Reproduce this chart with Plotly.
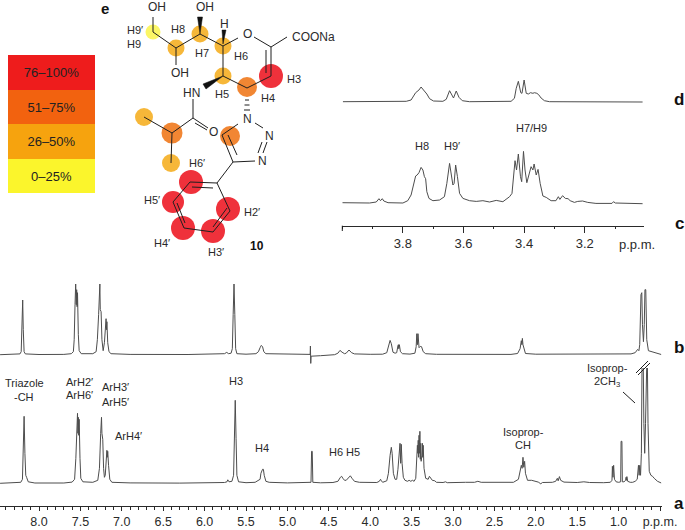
import plotly.graph_objects as go

W, H = 685, 530
FONT = "Liberation Sans"
INK = "#2a2a2a"
TRACE = "#4d4d4d"

# ---- full spectrum a: ppm / height ----
a_ppm = [8.47,8.30,8.22,8.20,8.19,8.18,8.17,8.16,8.15,8.13,8.05,7.70,7.60,7.57,7.555,7.545,7.535,7.53,7.525,7.52,7.515,7.505,7.495,7.47,7.35,7.29,7.27,7.255,7.245,7.24,7.235,7.23,7.22,7.21,7.20,7.19,7.18,7.175,7.17,7.16,7.145,7.12,6.9,6.3,5.9,5.76,5.73,5.72,5.705,5.67,5.65,5.64,5.63,5.62,5.61,5.59,5.5,5.39,5.36,5.33,5.32,5.30,5.29,5.28,5.26,5.22,5.0,4.75,4.715,4.708,4.70,4.693,4.6,4.45,4.39,4.36,4.345,4.33,4.31,4.29,4.26,4.24,4.22,4.19,4.13,4.0,3.92,3.89,3.875,3.865,3.85,3.80,3.78,3.76,3.745,3.735,3.72,3.70,3.68,3.665,3.65,3.64,3.632,3.625,3.615,3.60,3.58,3.55,3.53,3.51,3.49,3.47,3.45,3.44,3.43,3.425,3.42,3.415,3.41,3.405,3.40,3.395,3.39,3.385,3.375,3.37,3.365,3.36,3.35,3.33,3.30,3.285,3.27,3.25,3.22,3.20,3.12,3.09,3.07,2.95,2.90,2.85,2.74,2.70,2.66,2.4,2.27,2.21,2.19,2.175,2.165,2.155,2.145,2.135,2.125,2.10,2.05,2.02,1.97,1.94,1.92,1.8,1.76,1.74,1.73,1.715,1.70,1.66,1.5,1.42,1.35,1.18,1.10,1.08,1.075,1.068,1.06,1.05,1.03,1.0,0.975,0.97,0.96,0.955,0.935,0.915,0.91,0.905,0.90,0.89,0.86,0.83,0.80,0.775,0.76,0.752,0.745,0.735,0.725,0.715,0.705,0.695,0.685,0.675,0.665,0.655,0.645,0.63,0.61,0.59,0.57,0.53,0.485]
a_int = [0,0.3,1,4,30,67,30,8,6,1.5,0.3,0.3,1.2,4,25,55,70,50,66,48,64,25,5,1.5,1,3,15,50,66,50,44,44,15,6,8,25,33,26,32,18,4,1,0.4,0.2,0.4,0.8,1.5,3.5,1.5,2,8,45,83,45,8,1.5,0.6,1,2.5,4,10,14,14,8,2,1,0.4,0.5,1,32,32,1,0.5,0.8,2,6,7,5,3,3,6,7.5,5,2,1,0.8,0.8,2,4,2.5,1,2.5,10,28,36,30,10,4,4,14,35,40,20,39,20,6,3,2,3,2,3,2,5,20,38,30,43,26,48,30,52,24,40,22,28,40,26,38,15,5,4,7,5,3,2.5,1,0.8,1.5,0.6,1.2,1.5,1,1,2,1,0.5,1,4,12,18,15,26,16,22,10,3,3,2.5,1.2,-0.5,0.8,1,2,5,2.5,6.7,3,1.2,0.8,1.5,0.8,0.6,1,3,17,6,18,4,1.5,1,1.5,42,42,1.5,1.5,3,6,3,6.7,2,1,1,2,4,18,8,18,8,30,140,140,60,30,60,140,140,60,12,8,7,5,2,0.3]

# ---- full spectrum b ----
b_ppm = [8.47,8.3,8.23,8.215,8.205,8.197,8.19,8.18,8.165,8.0,7.7,7.61,7.585,7.575,7.565,7.557,7.55,7.545,7.54,7.535,7.525,7.515,7.49,7.35,7.31,7.295,7.28,7.27,7.265,7.26,7.25,7.24,7.225,7.21,7.20,7.19,7.185,7.18,7.17,7.155,7.13,6.9,6.2,5.85,5.76,5.733,5.71,5.68,5.665,5.655,5.645,5.635,5.625,5.61,5.5,5.38,5.35,5.33,5.315,5.30,5.285,5.26,5.0,4.75,4.725,4.722,4.718,4.714,4.6,4.5,4.43,4.39,4.365,4.34,4.31,4.29,4.256,4.225,4.19,4.0,3.85,3.80,3.78,3.76,3.745,3.725,3.70,3.68,3.665,3.66,3.655,3.648,3.635,3.61,3.52,3.46,3.445,3.437,3.43,3.423,3.41,3.395,3.38,3.36,3.33,3.2,2.3,2.22,2.19,2.175,2.168,2.162,2.155,2.145,2.125,2.0,1.5,1.1,1.0,0.85,0.80,0.78,0.77,0.755,0.745,0.73,0.72,0.712,0.70,0.69,0.682,0.672,0.66,0.64,0.6,0.55,0.485]
b_int = [0,0.2,0.8,3,25,54.7,25,3,0.8,0.2,0.3,1,3,15,50,70.7,50,65,48,62,20,4,1,1,3,15,40,55,70.7,45,43,15,4,12,30,36,25,33,12,3,1,0.3,0.2,0.4,1,2.3,1,1.5,6,40,70.7,40,6,1,0.5,1,3,7,9.3,8,3,1,0.4,0.3,0.3,8.7,-8.7,-1.5,-1,-0.8,0,1.5,4.3,2.5,1,1.5,4.7,2,0.8,0.4,0.5,2,9,14.3,11,2.5,1.5,2,9,10,6,10,3,1,0.6,1.5,8,21,10,21,7,8.3,8,3,1,0.4,0.3,1.2,6,14,10,16.3,10,6,1.2,0.5,0.4,0.7,0.5,0.8,2,4,5.3,4,10,60,62,30,13,30,65,65,15,4,3,1.5,0.2]

# ---- inset spectrum c ----
c_ppm = [4.0,3.91,3.888,3.879,3.874,3.868,3.863,3.849,3.8,3.784,3.773,3.765,3.758,3.753,3.747,3.74,3.734,3.729,3.725,3.721,3.714,3.701,3.679,3.663,3.655,3.646,3.64,3.635,3.631,3.626,3.62,3.613,3.602,3.58,3.558,3.536,3.514,3.492,3.47,3.448,3.44,3.434,3.43,3.425,3.419,3.412,3.408,3.402,3.397,3.391,3.385,3.377,3.371,3.367,3.36,3.354,3.347,3.338,3.327,3.311,3.295,3.287,3.282,3.273,3.264,3.255,3.248,3.234,3.223,3.207,3.19,3.163,3.11,3.105,3.099,3.053,3.009]
c_int = [1,0.7,1.7,5,3,5,2.7,1,0.7,3,8.7,20.3,27.7,28.7,31,36.3,33.7,27,25,12,5.3,3,3.7,7,20.3,40.3,30.3,18.7,20.3,38.7,27,10.3,5.3,3,2.3,3,1.7,3.3,2,7,10.3,30.3,43,33.7,49.7,27,22,52.3,33.7,21,27.7,37,33.7,39.7,28.7,34.3,20.3,7.7,6.3,3,3,7,4.3,8,5.3,5,3,1.3,2.3,2.7,1.3,0.3,0.3,2,0.7,0,0]

# ---- inset spectrum d ----
d_ppm = [3.998,3.789,3.773,3.758,3.747,3.74,3.732,3.721,3.712,3.699,3.668,3.657,3.646,3.637,3.633,3.624,3.615,3.604,3.58,3.443,3.432,3.426,3.419,3.411,3.407,3.4,3.393,3.386,3.379,3.371,3.366,3.358,3.352,3.344,3.333,3.316,3.009]
d_int = [0.3,0.7,2,9.3,12,15,12,8,3.3,1,0.7,2.7,11.3,5.3,4,11,4.7,1.3,0.3,0.7,3.7,13.7,20.7,9.3,8.7,22,8.7,8,9.3,8.7,9.3,8.7,7.3,4,1.3,0.3,0]

# ---- occupancy scale ----
scale_labels = ["0–25%", "26–50%", "51–75%", "76–100%"]
scale_width = [25, 25, 25, 25]
scale_colors = ["#fbf52c", "#f6a30e", "#f2620f", "#ee1c1c"]

# ---- structure 10 (scheme coordinates) ----
atom_x = [153,176,200,223,223,247,271,230,172,144,171,191,173,183,213,228]
atom_y = [32,48,34,46,76,87,76,136,133,117,163,182,202,228,231,209]
atom_size = [15,17,17,17,17,20,24,20,21,18,18,24,22,24,24,24]
atom_color = ["#fbf55e","#f6b32e","#f6b32e","#f6b32e","#f6b32e","#f08028","#ee2630","#f08028",
              "#f08028","#f6b32e","#f6b32e","#ee2630","#ee2630","#ee2630","#ee2630","#ee2630"]
bonds = [((153,17),(153,32)),((153,32),(176,48)),((176,48),(200,34)),((200,34),(223,46)),((176,48),(176,65)),
         ((223,46),(238,38)),((254,37),(271,47)),((271,47),(287,37)),((271,47),(271,76)),((266,50),(266,73)),
         ((271,76),(247,88)),((247,88),(223,76)),((223,76),(223,46)),((193,99),(193,118)),((193,118),(172,133)),
         ((172,133),(144,117)),((172,133),(171,163)),((193,118),(208,128)),((195,123),(207,130)),((238,124),(222,135)),
         ((255,123),(263,128)),((267,142),(263,153)),((262,142),(258,153)),((255,161),(233,162)),((222,135),(233,162)),
         ((228,135),(237,155)),((233,162),(217,183)),((217,183),(230,211)),((230,211),(213,232)),((213,232),(184,228)),
         ((184,228),(173,202)),((173,202),(190,182)),((190,182),(217,183)),((192,187),(213,188)),((227,208),(213,227)),
         ((185,223),(177,203)),((245,100),(249,100)),((244.5,105),(249.5,105)),((244,110),(250,110)),
         ((623,392),(635,403)),((636,373),(648,361)),((638,375),(650,363)),((342.3,225.7),(342.3,231))]
wedges = [[(200,34),(197.5,17),(202.5,17)],[(223,44),(222,30),(226,30)],[(223,76),(203,84),(206,89)]]

labels = [("e",105,8.5,15,True),("OH",157,7,12,False),("OH",205,7,12,False),("H",224,24,12,False),("O",247,34,12,False),
          ("COONa",313,37,12,False),("OH",180,73,12,False),("HN",191,93,12,False),("O",213,132,12,False),
          ("N",247,119,12,False),("N",269,136,12,False),("N",262,161,12,False),
          ("H9′",135,30,11,False),("H9",134,44,11,False),("H8",178,29,11,False),("H7",202,53,11,False),
          ("H6",241,56,11,False),("H5",222,94,11,False),("H4",268,98,11,False),("H3",294,79,11,False),
          ("H6′",197,163,11,False),("H5′",152,200,11,False),("H2′",252,212,11,False),("H4′",162,243,11,False),
          ("H3′",216,252,11,False),("10",257,246,12,True),
          ("H8",422,146,11,False),("H9′",452,146,11,False),("H7/H9",531,128,11,False),
          ("p.p.m.",637,244,13,False),
          ("Triazole",24,383,11,False),("-CH",24,397,11,False),("ArH2′",79,382,11,False),("ArH6′",79,395,11,False),
          ("ArH3′",115,387,11,False),("ArH5′",115,402,11,False),("ArH4′",128,436,11,False),("H3",236,381,11,False),
          ("H4",262,448,11,False),("H6",336,452,11,False),("H5",353,452,11,False),("Isoprop-",523,432,11,False),
          ("CH",523,445,11,False),("Isoprop-",607,368,11,False),("2CH<sub>3</sub>",607,382,11,False),
          ("a",679,503,17,True),("b",679,347,17,True),("c",679,223,17,True),("d",679,99,17,True)]

main_ticks = [8.0,7.5,7.0,6.5,6.0,5.5,5.0,4.5,4.0,3.5,3.0,2.5,2.0,1.5,1.0,0.5]
main_text = ["8.0","7.5","7.0","6.5","6.0","5.5","5.0","4.5","4.0","3.5","3.0","2.5","2.0","1.5","1.0","p.p.m."]
inset_ticks = [3.8,3.6,3.4,3.2]
inset_text = ["3.8","3.6","3.4","3.2"]


def ydom(base, lo, hi):
    return [(H - (base - lo)) / H, (H - (base - hi)) / H]


fig = go.Figure()
line = dict(color=TRACE, width=1)
fig.add_trace(go.Scatter(x=a_ppm, y=a_int, mode="lines", line=line, xaxis="x", yaxis="y"))
fig.add_trace(go.Scatter(x=b_ppm, y=b_int, mode="lines", line=line, xaxis="x", yaxis="y2"))
fig.add_trace(go.Scatter(x=c_ppm, y=c_int, mode="lines", line=line, xaxis="x2", yaxis="y3"))
fig.add_trace(go.Scatter(x=d_ppm, y=d_int, mode="lines", line=line, xaxis="x2", yaxis="y4"))

for lab, val, col in zip(scale_labels, scale_width, scale_colors):
    fig.add_trace(go.Bar(x=["scale"], y=[val], marker=dict(color=col, line=dict(width=0)), text=[lab],
                         textposition="inside", insidetextanchor="middle", textangle=0, constraintext="none",
                         textfont=dict(family=FONT, size=13, color="#222222"), xaxis="x3", yaxis="y5"))

fig.add_trace(go.Scatter(x=atom_x, y=atom_y, mode="markers", xaxis="x4", yaxis="y6",
                         marker=dict(size=atom_size, color=atom_color, opacity=0.95, line=dict(width=0))))
bx, by = [], []
for p, q in bonds:
    bx += [p[0], q[0], None]
    by += [p[1], q[1], None]
fig.add_trace(go.Scatter(x=bx, y=by, mode="lines", line=dict(color="#1f1f1f", width=1), xaxis="x4", yaxis="y6"))
for w in wedges:
    fig.add_trace(go.Scatter(x=[p[0] for p in w] + [w[0][0]], y=[p[1] for p in w] + [w[0][1]], mode="lines",
                             fill="toself", fillcolor="#111111", line=dict(color="#111111", width=0.5),
                             xaxis="x4", yaxis="y6"))

hidden = dict(visible=False, showgrid=False, zeroline=False, fixedrange=True)
tick_common = dict(ticks="outside", tickcolor=INK, showline=True, linecolor=INK, showgrid=False, zeroline=False,
                   tickmode="array", anchor="free")
fig.update_layout(
    width=W, height=H, margin=dict(l=0, r=0, t=0, b=0, pad=0, autoexpand=False), paper_bgcolor="white", plot_bgcolor="rgba(0,0,0,0)",
    showlegend=False, barmode="stack", bargap=0, font=dict(family=FONT, color=INK),
    xaxis=dict(domain=[0, 661.5 / W], range=[8.471, 0.482], position=(H - 506) / H, tickvals=main_ticks,
               ticktext=main_text, ticklen=4, tickwidth=1, linewidth=1, tickfont=dict(family=FONT, size=12.5, color=INK),
               minor=dict(ticks="outside", ticklen=3, tickcolor=INK, dtick=0.1, tick0=0, showgrid=False), **tick_common),
    yaxis=dict(domain=ydom(483.3, -3, 115.3), range=[-3, 115.3], **hidden),
    yaxis2=dict(domain=ydom(354.7, -12, 75), range=[-12, 75], **hidden),
    xaxis2=dict(domain=[342.3 / W, 643.5 / W], range=[4.0, 3.006], position=(H - 225.7) / H, tickvals=inset_ticks,
                ticktext=inset_text, ticklen=6, tickwidth=1, linewidth=1, tickfont=dict(family=FONT, size=13, color=INK),
                minor=dict(ticks="outside", ticklen=2, tickcolor=INK, dtick=0.1, tick0=0, showgrid=False), **tick_common),
    yaxis3=dict(domain=ydom(203.7, -2, 60), range=[-2, 60], anchor="x2", **hidden),
    yaxis4=dict(domain=ydom(102, -2, 30), range=[-2, 30], anchor="x2", **hidden),
    xaxis3=dict(domain=[8 / W, 95 / W], anchor="y5", **hidden),
    yaxis5=dict(domain=[(H - 193) / H, (H - 55) / H], range=[0, 100], anchor="x3", **hidden),
    xaxis4=dict(domain=[0, 1], range=[0, W], anchor="y6", **hidden),
    yaxis6=dict(domain=[0, 1], range=[H, 0], anchor="x4", **hidden),
    annotations=[dict(text=("<b>%s</b>" % t) if b else t, x=x, y=y, xref="x4", yref="y6", showarrow=False,
                      xanchor="center", yanchor="middle", font=dict(family=FONT, size=s, color="#111111" if b else INK))
                 for t, x, y, s, b in labels],
)
fig.write_html("out.html", default_width="685px", default_height="530px",
               post_script="document.body.style.margin='0';",
               config={"displayModeBar": False, "responsive": False})
